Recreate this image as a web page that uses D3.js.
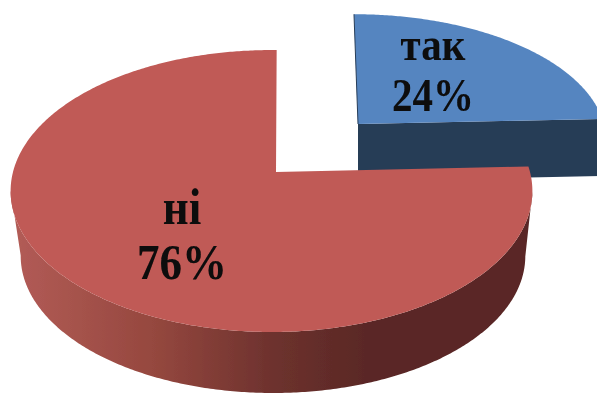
<!DOCTYPE html>
<html><head><meta charset="utf-8">
<script src="https://cdn.jsdelivr.net/npm/d3@7"></script>
<style>html,body{margin:0;padding:0;background:#fff}svg{display:block}</style>
</head><body><svg id="c" width="597" height="394"></svg>
<script>
const categories = ["так", "ні"];
const percentLabels = ["24%", "76%"];
const values = [24, 76];
const topColors = ["#5585c0", "#c05a56"];
const sideColors = ["#263c57", "#5a2825"];
const fontSizes = [41, 45];
const labelX = [433, 182];
const labelY = [60, 224];
const rotation = 1.3 * Math.PI / 180;

const svg = d3.select("#c");
const defs = svg.append("defs");
const grad = defs.append("linearGradient").attr("id", "redSide")
  .attr("gradientUnits", "userSpaceOnUse").attr("x1", 10).attr("x2", 532).attr("y1", 0).attr("y2", 0);
[[0, "#b35c57"], [0.27, "#96483f"], [0.5, "#6e322e"], [0.68, "#5a2825"], [1, "#5a2825"]]
  .forEach(([o, c]) => grad.append("stop").attr("offset", o).attr("stop-color", c));
defs.append("filter").attr("id", "soft").append("feGaussianBlur").attr("stdDeviation", 0.7);

const g = svg.append("g").attr("filter", "url(#soft)");
const arcs = d3.pie().sort(null).startAngle(rotation).endAngle(rotation + 2 * Math.PI)(values);

const k = 0.135;
// perspective projection of a unit circle: far edge shrinks
function rim(p, theta) {
  const X = Math.sin(theta), Y = Math.cos(theta), w = 1 + k * Y;
  return [p.cx + p.a * X / w, p.cy - p.b * Y / w];
}
const line = d3.line();
const samples = (a, b) => d3.range(a, b, 0.01).concat([b]);

const redTop = { cx: 271.5, cy: 172, a: 258.5, b: 138.4 };
const redBot = { cx: 273, cy: 237.5, a: 250, b: 134.5 };
const blueTop = { cx: 354, cy: 124, a: 250, b: 124.6 };
const blueBot = { cx: 354, cy: 181, a: 250, b: 124.6 };

// blue slice (exploded)
const b = arcs[0];
g.append("path").attr("fill", sideColors[0]).attr("d", line([
  [358, 124], rim(blueTop, b.endAngle), rim(blueBot, b.endAngle), [358, 181]
]) + "Z");
g.append("path").attr("fill", topColors[0]).attr("d", line(
  [[358, 124]].concat(samples(b.startAngle - 0.0227, b.endAngle).map(t => rim(blueTop, t)))
) + "Z");
g.append("path").attr("stroke", sideColors[0]).attr("stroke-width", 1).attr("fill", "none")
  .attr("d", line([[358, 124], rim(blueTop, b.startAngle - 0.0227)]));

// red slice
const r = arcs[1];
const ts = samples(r.startAngle, r.endAngle);
// the wall runs from the rim's right extreme round the front to its left extreme
const iRight = d3.greatestIndex(ts, t => rim(redTop, t)[0]);
const iLeft = d3.leastIndex(ts, t => rim(redTop, t)[0]);
const wall = ts.slice(iRight, iLeft + 1);
g.append("path").attr("fill", "url(#redSide)").attr("d", line(
  wall.map(t => rim(redTop, t)).concat(wall.slice().reverse().map(t => rim(redBot, t)))
) + "Z");
g.append("path").attr("fill", topColors[1]).attr("d", line(
  [[276, 172]].concat(ts.map(t => rim(redTop, t)))
) + "Z");

// labels
const t = svg.append("g").attr("font-family", "'Liberation Serif'").attr("font-weight", 700)
  .attr("text-anchor", "middle").attr("fill", "#0a0a0a");
categories.forEach((c, i) => {
  const s = 1.12;
  const lab = t.append("g").attr("transform", `translate(${labelX[i]},${labelY[i]}) scale(1,${s})`)
    .attr("font-size", fontSizes[i]).attr("filter", "url(#soft)");
  lab.append("text").text(c);
  lab.append("text").attr("y", fontSizes[i] * 1.1).text(percentLabels[i]);
});
</script></body></html>
